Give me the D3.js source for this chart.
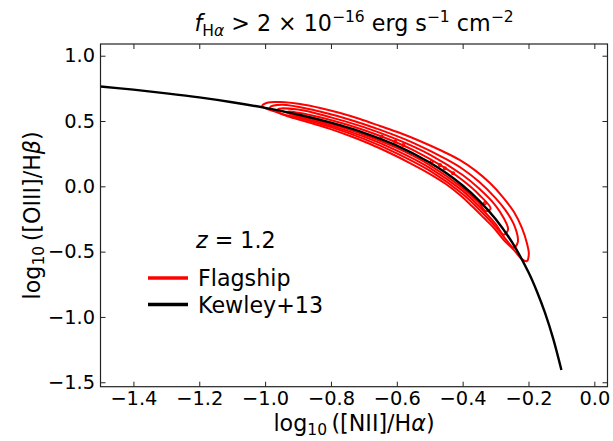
<!DOCTYPE html>
<html><head><meta charset="utf-8">
<script src="https://cdn.jsdelivr.net/npm/d3@7"></script>
<style>
html,body{margin:0;padding:0;background:#fff;}
svg{display:block;font-family:"DejaVu Sans",sans-serif;}
</style></head>
<body>
<svg id="chart" width="613" height="441"></svg>
<script>
// ---- data ----
const xTicks = [-1.4, -1.2, -1.0, -0.8, -0.6, -0.4, -0.2, 0.0];
const yTicks = [1.0, 0.5, 0.0, -0.5, -1.0, -1.5];
const redshift = "1.2";
const legendLabels = ["Flagship", "Kewley+13"];

// Kewley+13 line at z=1.2
const kewleyX = [-1.5, -1.4, -1.3, -1.2, -1.1, -1.0, -0.9, -0.8, -0.7, -0.6, -0.5, -0.45, -0.4, -0.35, -0.3, -0.25, -0.2, -0.175, -0.15, -0.125, -0.1];
const kewleyY = [0.764, 0.740, 0.712, 0.681, 0.644, 0.601, 0.550, 0.487, 0.410, 0.312, 0.183, 0.102, 0.006, -0.109, -0.250, -0.428, -0.658, -0.801, -0.967, -1.166, -1.406];

// Flagship density contours (outer -> inner), closed polygons in data coords
const contour1 = [[-1.009,0.615],[-0.991,0.642],[-0.954,0.645],[-0.894,0.630],[-0.833,0.600],[-0.772,0.561],[-0.712,0.515],[-0.651,0.462],[-0.590,0.408],[-0.530,0.347],[-0.469,0.278],[-0.408,0.201],[-0.363,0.124],[-0.317,0.025],[-0.278,-0.082],[-0.244,-0.197],[-0.220,-0.319],[-0.205,-0.434],[-0.199,-0.519],[-0.205,-0.572],
  [-0.220,-0.557],[-0.244,-0.488],[-0.275,-0.411],[-0.305,-0.319],[-0.335,-0.243],[-0.372,-0.151],[-0.408,-0.067],[-0.451,0.018],[-0.499,0.094],[-0.560,0.178],[-0.621,0.255],[-0.681,0.324],[-0.742,0.385],[-0.803,0.440],[-0.863,0.487],[-0.924,0.530],[-0.970,0.572],[-1.000,0.598]];
const contour2 = [[-0.985,0.605],[-0.95,0.624],[-0.85,0.582],[-0.75,0.516],[-0.65,0.432],[-0.55,0.333],[-0.45,0.208],[-0.40,0.133],[-0.35,0.035],[-0.30,-0.090],[-0.27,-0.182],[-0.245,-0.288],[-0.232,-0.404],[-0.234,-0.440],
  [-0.245,-0.470],[-0.27,-0.402],[-0.30,-0.309],[-0.35,-0.177],[-0.40,-0.058],[-0.50,0.120],[-0.60,0.253],[-0.70,0.363],[-0.80,0.453],[-0.90,0.524],[-0.95,0.556]];
const contour3 = [[-0.96,0.592],[-0.90,0.588],[-0.80,0.528],[-0.70,0.453],[-0.60,0.359],[-0.50,0.243],[-0.40,0.087],[-0.35,-0.017],[-0.30,-0.147],[-0.275,-0.244],[-0.262,-0.330],
  [-0.275,-0.370],[-0.30,-0.288],[-0.35,-0.153],[-0.40,-0.035],[-0.50,0.142],[-0.60,0.274],[-0.70,0.380],[-0.80,0.465],[-0.90,0.533]];
const contour4 = [[-0.93,0.575],[-0.85,0.539],[-0.75,0.471],[-0.65,0.385],[-0.55,0.277],[-0.45,0.135],[-0.40,0.046],[-0.35,-0.064],[-0.315,-0.170],
  [-0.33,-0.190],[-0.35,-0.129],[-0.40,-0.014],[-0.50,0.163],[-0.60,0.294],[-0.70,0.395],[-0.80,0.476],[-0.90,0.542]];
const islandsX = [-0.646, -0.605, -0.580, -0.494, -0.469, -0.454, -0.429, -0.332];
const islandsY = [0.380, 0.342, 0.316, 0.188, 0.163, 0.138, 0.100, -0.128];

// ---- layout ----
const m = {left: 100.5, right: 607.5, top: 44, bottom: 386.7};
const x = d3.scaleLinear().domain([-1.5, 0.04]).range([m.left, m.right]);
const y = d3.scaleLinear().domain([-1.534, 1.0896]).range([m.bottom, m.top]);
const svg = d3.select("#chart");
const FT = 19.4;   // tick labels
const FL = 22.2;   // labels, title, legend
const SUB = 0.7;

svg.append("defs").append("clipPath").attr("id","clip")
  .append("rect").attr("x",m.left).attr("y",m.top).attr("width",m.right-m.left).attr("height",m.bottom-m.top);

const plot = svg.append("g").attr("clip-path","url(#clip)");

// contours
const cLine = d3.line().x(d=>x(d[0])).y(d=>y(d[1])).curve(d3.curveCatmullRomClosed.alpha(0.5));
[contour1, contour2, contour3, contour4].forEach(c => {
  plot.append("path").attr("d", cLine(c)).attr("fill","none").attr("stroke","#ff0000").attr("stroke-width",2);
});
plot.selectAll("circle.isl").data(islandsX.map((v,i)=>[v, islandsY[i]])).enter()
  .append("circle").attr("class","isl").attr("cx",d=>x(d[0])).attr("cy",d=>y(d[1])).attr("r",1.3)
  .attr("fill","none").attr("stroke","#ff0000").attr("stroke-width",1.6);

// Kewley line
const kLine = d3.line().x(d=>x(d[0])).y(d=>y(d[1])).curve(d3.curveCatmullRom.alpha(0.5));
plot.append("path").attr("d", kLine(kewleyX.map((v,i)=>[v,kewleyY[i]])))
  .attr("fill","none").attr("stroke","#000").attr("stroke-width",2.4);

// axes
const fmt = d3.format(".1f");
function styleAxis(g){
  g.select(".domain").remove();
  g.selectAll(".tick line").attr("stroke","#222").attr("stroke-width",1);
  g.selectAll("text").attr("font-size",FT).attr("fill","#000").attr("font-family","DejaVu Sans");
}
svg.append("g").attr("transform",`translate(0,${m.bottom})`)
  .call(d3.axisBottom(x).tickValues(xTicks).tickFormat(fmt).tickSizeInner(-5).tickSizeOuter(0).tickPadding(5)).call(styleAxis);
svg.append("g").attr("transform",`translate(0,${m.top})`)
  .call(d3.axisTop(x).tickValues(xTicks).tickFormat("").tickSizeInner(-5).tickSizeOuter(0)).call(styleAxis);
svg.append("g").attr("transform",`translate(${m.left},0)`)
  .call(d3.axisLeft(y).tickValues(yTicks).tickFormat(fmt).tickSizeInner(-5).tickSizeOuter(0).tickPadding(5.5)).call(styleAxis);
svg.append("g").attr("transform",`translate(${m.right},0)`)
  .call(d3.axisRight(y).tickValues(yTicks).tickFormat("").tickSizeInner(-5).tickSizeOuter(0)).call(styleAxis);

svg.append("rect").attr("x",m.left).attr("y",m.top).attr("width",m.right-m.left).attr("height",m.bottom-m.top)
  .attr("fill","none").attr("stroke","#222").attr("stroke-width",1.2);

// axis labels
const xl = svg.append("text").attr("x",(m.left+m.right)/2).attr("y",431).attr("text-anchor","middle").attr("font-size",FL);
xl.append("tspan").text("log");
xl.append("tspan").attr("font-size",FL*SUB).attr("dy",4).text("10");
xl.append("tspan").attr("dy",-4).text("\u2009([NII]/H");
xl.append("tspan").attr("font-style","italic").text("α");
xl.append("tspan").text(")");

const yl = svg.append("text").attr("transform",`translate(40,${(m.top+m.bottom)/2}) rotate(-90)`).attr("text-anchor","middle").attr("font-size",FL);
yl.append("tspan").text("log");
yl.append("tspan").attr("font-size",FL*SUB).attr("dy",4).text("10");
yl.append("tspan").attr("dy",-4).text("\u2009([OIII]/H");
yl.append("tspan").attr("font-style","italic").text("β");
yl.append("tspan").text(")");

// title
const t = svg.append("text").attr("x",(m.left+m.right)/2).attr("y",31).attr("text-anchor","middle").attr("font-size",FL);
t.append("tspan").attr("font-style","italic").text("f");
t.append("tspan").attr("font-size",FL*SUB).attr("dy",5).text("H");
t.append("tspan").attr("font-size",FL*SUB).attr("font-style","italic").text("α");
t.append("tspan").attr("dy",-5).text(" > 2 × 10");
t.append("tspan").attr("font-size",FL*SUB).attr("dy",-9).text("−16");
t.append("tspan").attr("dy",9).text(" erg s");
t.append("tspan").attr("font-size",FL*SUB).attr("dy",-9).text("−1");
t.append("tspan").attr("dy",9).text(" cm");
t.append("tspan").attr("font-size",FL*SUB).attr("dy",-9).text("−2");

// legend
const zt = svg.append("text").attr("x",196).attr("y",248).attr("font-size",FL);
zt.append("tspan").attr("font-style","italic").text("z");
zt.append("tspan").text(" = " + redshift);
const legColors = ["#ff0000", "#000"];
legendLabels.forEach((lab,i) => {
  const yy = 278 + i*26.5;
  svg.append("line").attr("x1",148).attr("x2",188).attr("y1",yy).attr("y2",yy).attr("stroke",legColors[i]).attr("stroke-width",3.5);
  svg.append("text").attr("x",198).attr("y",yy+8).attr("font-size",FL).text(lab);
});
</script>
</body></html>
